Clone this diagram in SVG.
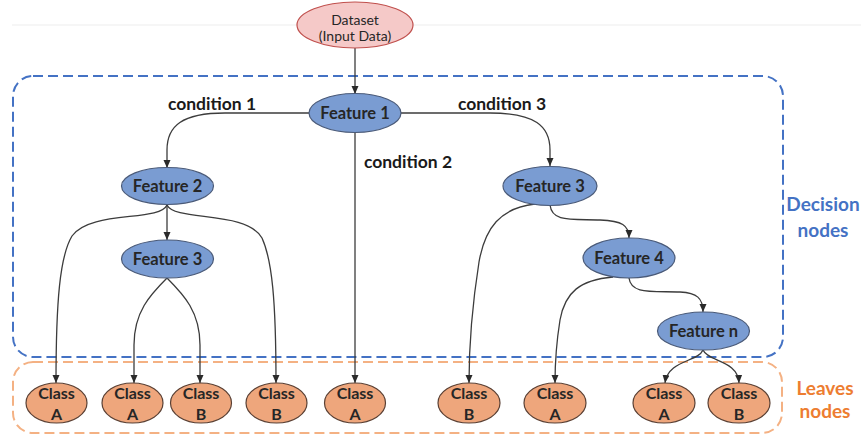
<svg xmlns="http://www.w3.org/2000/svg" width="861" height="435" viewBox="0 0 861 435">
<style>
text{font-family:Lato,"Liberation Sans",Arial,sans-serif;fill:#262626;text-anchor:middle}
.feat ellipse{fill:#7A9CD2;stroke:#4A5A78;stroke-width:1.2}
.feat text{font-weight:bold;font-size:16.5px}
.leaf ellipse{fill:#EEA67C;stroke:#5A4034;stroke-width:1.2}
.leaf text{font-weight:bold;font-size:16px}
.cond{font-weight:bold;font-size:17.5px;fill:#1a1a1a}
.edge{fill:none;stroke:#3C3C3C;stroke-width:1.3;marker-end:url(#ah)}
</style>
<defs>
<marker id="ah" markerWidth="8" markerHeight="8" refX="8" refY="4" orient="auto" markerUnits="userSpaceOnUse">
<path d="M0,0.5 L8,4 L0,7.5 Z" fill="#2A2A2A"/>
</marker>
</defs>
<rect width="861" height="435" fill="#FFFFFF"/>
<line x1="12" y1="25" x2="861" y2="25" stroke="#EDEDED" stroke-width="1"/>

<g id="groups">
<rect x="13" y="76" width="770" height="281" rx="20" fill="none" stroke="#4472C4" stroke-width="2" stroke-dasharray="10 5"/>
<rect x="13" y="362" width="769" height="71" rx="20" fill="none" stroke="#F4B183" stroke-width="2" stroke-dasharray="10 5"/>
<text x="823" y="211" style="font-weight:bold;font-size:19px;fill:#4472C4">Decision</text>
<text x="823" y="237" style="font-weight:bold;font-size:19px;fill:#4472C4">nodes</text>
<text x="825" y="395" style="font-weight:bold;font-size:19px;fill:#ED7D31">Leaves</text>
<text x="825" y="418" style="font-weight:bold;font-size:19px;fill:#ED7D31">nodes</text>
</g>

<g id="connectors">
<path class="edge" d="M355,48 L355,94"/>
<path class="edge" d="M309,113 L225,113 C182,113 167,126 167,150 L167,168"/>
<path class="edge" d="M401,113 L490,113 C535,113 550,126 550,150 L550,166"/>
<path class="edge" d="M355,132 L355,383"/>
<path class="edge" d="M167,205 L167,240"/>
<path class="edge" d="M167,205 C160,222 90,210 72,236 C60,256 56,300 56,383"/>
<path class="edge" d="M167,205 C175,222 246,210 262,238 C272,260 276,300 276,383"/>
<path class="edge" d="M167,278 C150,295 134,312 134,345 L134,383"/>
<path class="edge" d="M167,278 C184,295 200,312 200,345 L200,383"/>
<path class="edge" d="M535,204 C500,208 485,228 479,262 C473,300 469,340 469,383"/>
<path class="edge" d="M550,205 C552,222 570,219 600,220 C622,221 629,225 629,238"/>
<path class="edge" d="M613,277 C580,280 565,292 560,320 C556,345 555,365 555,383"/>
<path class="edge" d="M629,278 C631,294 650,291 680,292 C697,293 703,298 703,312"/>
<path class="edge" d="M703,350 C698,362 668,360 665,383"/>
<path class="edge" d="M703,350 C708,362 738,360 739,383"/>
<text class="cond" x="212" y="110">condition 1</text>
<text class="cond" x="408" y="168">condition 2</text>
<text class="cond" x="502" y="110">condition 3</text>
</g>

<g id="dataset">
<ellipse cx="355" cy="25" rx="58" ry="23" fill="#F5C9C8" stroke="#C0504D" stroke-width="1.2"/>
<text x="355" y="25" style="font-size:14px">Dataset</text>
<text x="355" y="41" style="font-size:14px">(Input Data)</text>
</g>

<g id="feature1" class="feat"><ellipse cx="355" cy="113" rx="46" ry="19.5"/><text x="355" y="119">Feature 1</text></g>
<g id="feature2" class="feat"><ellipse cx="167.5" cy="186" rx="46" ry="18.5"/><text x="167.5" y="192">Feature 2</text></g>
<g id="feature3a" class="feat"><ellipse cx="167.5" cy="259" rx="46" ry="19"/><text x="167.5" y="265">Feature 3</text></g>
<g id="feature3b" class="feat"><ellipse cx="550" cy="186" rx="47" ry="19.5"/><text x="550" y="192">Feature 3</text></g>
<g id="feature4" class="feat"><ellipse cx="629" cy="258" rx="46" ry="20"/><text x="629" y="264">Feature 4</text></g>
<g id="featuren" class="feat"><ellipse cx="703.5" cy="331" rx="46" ry="19"/><text x="703.5" y="337">Feature n</text></g>

<g id="leaf1" class="leaf"><ellipse cx="56.5" cy="403" rx="30.5" ry="20"/><text x="56.5" y="399">Class</text><text x="56.5" y="420">A</text></g>
<g id="leaf2" class="leaf"><ellipse cx="132.5" cy="403" rx="30.5" ry="20"/><text x="132.5" y="399">Class</text><text x="132.5" y="420">A</text></g>
<g id="leaf3" class="leaf"><ellipse cx="201" cy="403" rx="30.5" ry="20"/><text x="201" y="399">Class</text><text x="201" y="420">B</text></g>
<g id="leaf4" class="leaf"><ellipse cx="276.5" cy="403" rx="30.5" ry="20"/><text x="276.5" y="399">Class</text><text x="276.5" y="420">B</text></g>
<g id="leaf5" class="leaf"><ellipse cx="355" cy="403" rx="30.5" ry="20"/><text x="355" y="399">Class</text><text x="355" y="420">A</text></g>
<g id="leaf6" class="leaf"><ellipse cx="469" cy="403" rx="31" ry="20"/><text x="469" y="399">Class</text><text x="469" y="420">B</text></g>
<g id="leaf7" class="leaf"><ellipse cx="555" cy="403" rx="31" ry="20"/><text x="555" y="399">Class</text><text x="555" y="420">A</text></g>
<g id="leaf8" class="leaf"><ellipse cx="664" cy="403" rx="31" ry="20"/><text x="664" y="399">Class</text><text x="664" y="420">A</text></g>
<g id="leaf9" class="leaf"><ellipse cx="739" cy="403" rx="31" ry="20"/><text x="739" y="399">Class</text><text x="739" y="420">B</text></g>
</svg>
